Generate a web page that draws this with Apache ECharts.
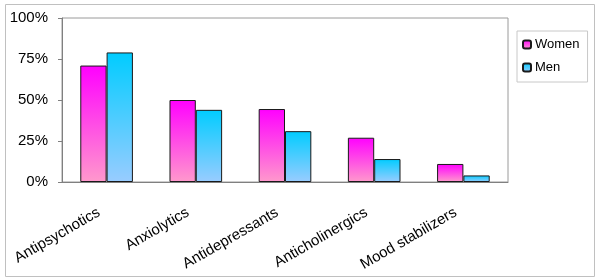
<!DOCTYPE html>
<html>
<head>
<meta charset="utf-8">
<script src="https://cdn.jsdelivr.net/npm/echarts@6/dist/echarts.min.js"></script>
<style>
  html, body { margin: 0; padding: 0; background: #fff; }
  #chart { width: 600px; height: 280px; }
</style>
</head>
<body>
<div id="chart"></div>
<script>
  var categories = ['Antipsychotics', 'Anxiolytics', 'Antidepressants', 'Anticholinergics', 'Mood stabilizers']
  var women = [71, 50, 44.5, 27, 11]
  var men = [79, 44, 31, 14, 4]
  var yTicks = [0, 25, 50, 75, 100]

  var font = '"Liberation Sans", Arial, sans-serif'

  function grad (top, bottom) {
    return new echarts.graphic.LinearGradient(0, 0, 0, 1, [
      {offset: 0, color: top},
      {offset: 1, color: bottom}
    ])
  }

  var chart = echarts.init(document.getElementById('chart'))
  chart.setOption({
    animation: false,
    graphic: [{
      type: 'rect',
      shape: {x: 5.5, y: 4.5, width: 589, height: 272},
      style: {fill: 'none', stroke: '#c0c0c0', lineWidth: 1},
      silent: true
    }],
    grid: {
      left: 62, right: 92, top: 18, bottom: 98,
      show: true, borderColor: '#9a9a9a', borderWidth: 1
    },
    legend: {
      orient: 'vertical',
      left: 517, top: 31,
      padding: [7, 8, 8, 5],
      itemGap: 10,
      itemWidth: 8, itemHeight: 8,
      borderColor: '#c8c8c8', borderWidth: 1,
      textStyle: {fontFamily: font, fontSize: 13, color: '#000', padding: [0, 0, 0, -1]},
      data: ['Women', 'Men']
    },
    xAxis: {
      type: 'category',
      data: categories,
      axisLine: {lineStyle: {color: '#808080'}},
      axisTick: {length: 4, lineStyle: {color: '#808080'}},
      axisLabel: {
        rotate: 30, margin: 25, interval: 0,
        padding: [0, 9, 0, 0],
        fontFamily: font, fontSize: 15, color: '#000'
      }
    },
    yAxis: {
      type: 'value',
      min: yTicks[0], max: yTicks[yTicks.length - 1], interval: 25,
      splitLine: {show: false},
      axisLine: {show: true, lineStyle: {color: '#808080'}},
      axisTick: {show: true, length: 4, lineStyle: {color: '#808080'}},
      axisLabel: {
        formatter: '{value}%', margin: 14,
        fontFamily: font, fontSize: 15, color: '#000'
      }
    },
    series: [
      {
        name: 'Women', type: 'bar', data: women,
        barGap: '0%', barCategoryGap: '41%',
        itemStyle: {color: grad('#ff00ff', '#ff99cc'), borderColor: '#1a1a1a', borderWidth: 1}
      },
      {
        name: 'Men', type: 'bar', data: men,
        barGap: '0%', barCategoryGap: '41%',
        itemStyle: {color: grad('#00ccff', '#99ccff'), borderColor: '#1a1a1a', borderWidth: 1}
      }
    ]
  })
</script>
</body>
</html>
